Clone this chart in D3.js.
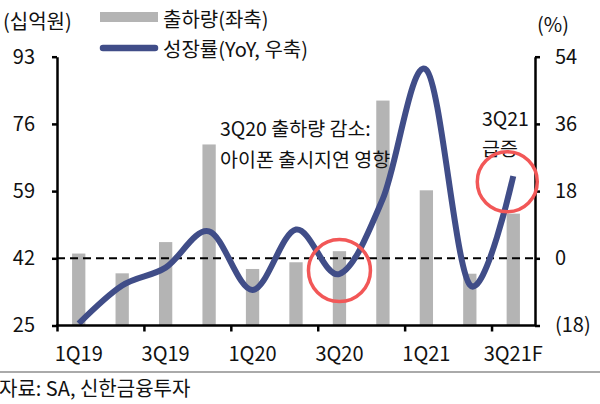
<!DOCTYPE html>
<html><head><meta charset="utf-8">
<script src="https://cdn.jsdelivr.net/npm/d3@7"></script>
<style>
html,body{margin:0;padding:0;background:#fff;}
svg text{font-family:"Noto Sans CJK KR","Noto Sans",sans-serif;fill:#111;font-weight:400;}
</style></head>
<body>
<svg id="c" width="600" height="404"></svg>
<script>
const categories = ["1Q19","2Q19","3Q19","4Q19","1Q20","2Q20","3Q20","4Q20","1Q21","2Q21","3Q21F"];
const shipments = [43.2, 38.2, 46.1, 70.8, 39.3, 41.0, 43.8, 81.9, 59.2, 38.1, 53.3];
const growthYoY = [-17.5, -7.3, -2.5, 7.2, -8.5, 7.7, -4.2, 16.0, 50.5, -7.1, 22.0];
const leftTicks = [25, 42, 59, 76, 93];
const rightTicks = [-18, 0, 18, 36, 54];
const xLabelCats = ["1Q19","3Q19","1Q20","3Q20","1Q21","3Q21F"];

const svg = d3.select("#c");
const L = 57, R = 535, T = 56.7, B = 325.5;
const BAR = "#b4b4b4", LINE = "#404d88", RED = "#f25757";

const x = d3.scaleBand().domain(categories).range([L, R]).paddingInner(0.694).paddingOuter(0.347);
const xEdge = d3.scaleLinear().domain([0, categories.length]).range([L, R]);
const yL = d3.scaleLinear().domain([25, 93]).range([B, T]);
const yR = d3.scaleLinear().domain([-18, 54]).range([B, T]);
const cx = c => x(c) + x.bandwidth() / 2;

// bars
svg.append("g").selectAll("rect").data(categories).join("rect")
  .attr("x", c => x(c)).attr("width", x.bandwidth())
  .attr("y", (c, i) => yL(shipments[i])).attr("height", (c, i) => B - yL(shipments[i]))
  .attr("fill", BAR);

// dashed zero line
svg.append("line").attr("x1", L).attr("x2", R).attr("y1", yR(0)).attr("y2", yR(0))
  .attr("stroke", "#000").attr("stroke-width", 2).attr("stroke-dasharray", "8,5");

// line
const lineGen = d3.line().x((d, i) => cx(categories[i])).y(d => yR(d)).curve(d3.curveCardinal.tension(0));
svg.append("path").datum(growthYoY).attr("d", lineGen)
  .attr("fill", "none").attr("stroke", LINE).attr("stroke-width", 6)
  .attr("stroke-linecap", "butt").attr("stroke-linejoin", "round");

// axes
const axStyle = g => {
  g.selectAll("path.domain").attr("stroke", "#000").attr("stroke-width", 2.5);
  g.selectAll(".tick line").attr("stroke", "#000").attr("stroke-width", 2.5);
  g.selectAll(".tick text").style("font-size", "20px").attr("fill", "#111");
};
svg.append("g").attr("transform", `translate(${L},0)`)
  .call(d3.axisLeft(yL).tickValues(leftTicks).tickSize(5).tickSizeOuter(0).tickPadding(17))
  .call(axStyle);
svg.append("g").attr("transform", `translate(${R},0)`)
  .call(d3.axisRight(yR).tickValues(rightTicks).tickSize(5).tickSizeOuter(0).tickPadding(15)
    .tickFormat(d => d < 0 ? `(${Math.abs(d)})` : d))
  .call(axStyle);
const xa = svg.append("g").attr("transform", `translate(0,${B})`)
  .call(d3.axisBottom(xEdge).tickValues([0, 2, 4, 6, 8, 10]).tickSize(6).tickSizeOuter(0).tickFormat(""))
  .call(axStyle);
xa.select("path.domain").attr("d", `M${L - 1},0H${R + 1}`);
svg.append("g").selectAll("text").data(xLabelCats).join("text")
  .attr("x", c => cx(c)).attr("y", 352).attr("text-anchor", "middle")
  .attr("dominant-baseline", "central").style("font-size", "20px").text(c => c);

// unit labels
svg.append("text").attr("x", 3).attr("y", 20).attr("dominant-baseline", "central")
  .style("font-size", "20px").text("(십억원)");
svg.append("text").attr("x", 537).attr("y", 23).attr("dominant-baseline", "central")
  .style("font-size", "20px").text("(%)");

// legend
svg.append("rect").attr("x", 100).attr("y", 12).attr("width", 58).attr("height", 10).attr("fill", BAR);
svg.append("text").attr("x", 163).attr("y", 18).attr("dominant-baseline", "central")
  .style("font-size", "20px").text("출하량(좌축)");
svg.append("line").attr("x1", 103).attr("x2", 155).attr("y1", 48).attr("y2", 48)
  .attr("stroke", LINE).attr("stroke-width", 6.5).attr("stroke-linecap", "round");
svg.append("text").attr("x", 163).attr("y", 48).attr("dominant-baseline", "central")
  .style("font-size", "20px").text("성장률(YoY, 우축)");

// annotations
svg.append("text").attr("x", 220).attr("y", 127).attr("dominant-baseline", "central")
  .style("font-size", "19.5px").text("3Q20 출하량 감소:");
svg.append("text").attr("x", 220).attr("y", 158).attr("dominant-baseline", "central")
  .style("font-size", "19.5px").text("아이폰 출시지연 영향");
svg.append("text").attr("x", 482).attr("y", 117).attr("dominant-baseline", "central")
  .style("font-size", "19.5px").text("3Q21");
svg.append("text").attr("x", 482).attr("y", 147).attr("dominant-baseline", "central")
  .style("font-size", "19.5px").text("급증");

svg.append("circle").attr("cx", cx("3Q20")).attr("cy", yR(-3.3)).attr("r", 31)
  .attr("fill", "none").attr("stroke", RED).attr("stroke-width", 3.5);
svg.append("circle").attr("cx", cx("3Q21F") - 6).attr("cy", yR(20.5)).attr("r", 30)
  .attr("fill", "none").attr("stroke", RED).attr("stroke-width", 3.5);

// source
svg.append("line").attr("x1", 0).attr("x2", 600).attr("y1", 372).attr("y2", 372)
  .attr("stroke", "#aaa").attr("stroke-width", 2);
svg.append("text").attr("x", -1).attr("y", 387).attr("dominant-baseline", "central")
  .style("font-size", "20px").text("자료: SA, 신한금융투자");
</script>
</body></html>
